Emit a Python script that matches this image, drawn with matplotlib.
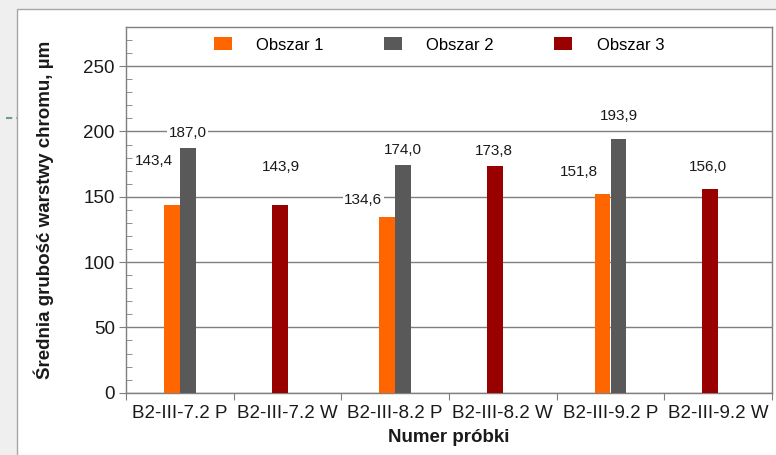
import numpy as np
import matplotlib
matplotlib.use("Agg")
import matplotlib.pyplot as plt
from matplotlib.patches import Rectangle
from matplotlib.lines import Line2D

plt.rcParams['font.family'] = ['Liberation Sans', 'DejaVu Sans']

categories = ['B2-III-7.2 P', 'B2-III-7.2 W', 'B2-III-8.2 P',
              'B2-III-8.2 W', 'B2-III-9.2 P', 'B2-III-9.2 W']
series_names = ['Obszar 1', 'Obszar 2', 'Obszar 3']
obszar1 = [143.4, np.nan, 134.6, np.nan, 151.8, np.nan]
obszar2 = [187.0, np.nan, 174.0, np.nan, 193.9, np.nan]
obszar3 = [np.nan, 143.9, np.nan, 173.8, np.nan, 156.0]
colors = ['#ff6600', '#595959', '#990000']

# bar offsets (in bar widths) and hand-placed label shifts in pixels
bar_w = 0.148
offsets = [-0.5, 0.5, -0.5]
label_shift = {
    (0, 0): (-18, 44), (1, 0): (0, 15), (2, 1): (1, 38),
    (0, 2): (-24, 17), (1, 2): (0, 15), (2, 3): (-1, 15),
    (0, 4): (-24, 22), (1, 4): (0, 23), (2, 5): (-2, 22),
}

fig = plt.figure(figsize=(7.76, 4.55), dpi=100, facecolor='#efefef')

# white chart area with thin frame
fig.patches.append(Rectangle((17 / 776, -0.05), 1.0, 1 - 9 / 455 + 0.05,
                             transform=fig.transFigure, facecolor='white',
                             edgecolor='#a6a6a6', lw=1.0, zorder=-2))
fig.lines.append(Line2D([6 / 776, 17 / 776], [1 - 118 / 455, 1 - 118 / 455],
                        transform=fig.transFigure, color='#6f9999',
                        lw=1.5, ls=(0, (3, 2)), zorder=-1))

ax = fig.add_axes([126 / 776, 1 - 392.7 / 455, 646 / 776, 365.7 / 455])
ax.set_facecolor('white')

x = np.arange(len(categories))
for i, vals in enumerate([obszar1, obszar2, obszar3]):
    vals = np.array(vals)
    pos = x + offsets[i] * bar_w
    ax.bar(pos, vals, width=bar_w, color=colors[i], label=series_names[i],
           zorder=3, linewidth=0)
    for j, v in enumerate(vals):
        if np.isnan(v):
            continue
        dx, dy = label_shift[(i, j)]
        ax.annotate(f'{v:.1f}'.replace('.', ','), (pos[j], v),
                    xytext=(dx, dy), textcoords='offset pixels',
                    ha='center', va='center', fontsize=11, color='#1a1a1a',
                    bbox=dict(facecolor='white', edgecolor='none', pad=1),
                    zorder=4)

ax.set_xlim(-0.5, len(categories) - 0.5)
ax.set_ylim(0, 280)
ax.set_yticks(np.arange(0, 251, 50))
ax.set_yticks(np.arange(0, 281, 10), minor=True)
ax.yaxis.grid(True, which='major', color='#7f7f7f', lw=1.0, zorder=1)
ax.tick_params(axis='y', which='major', direction='out', length=5,
               color='#7f7f7f', labelsize=13.5, labelcolor='#1a1a1a', pad=3)
ax.tick_params(axis='y', which='minor', direction='in', length=4,
               color='#7f7f7f')

ax.set_xticks(np.arange(-0.5, len(categories)), minor=False)
ax.set_xticklabels([])
ax.set_xticks(x, minor=True)
ax.set_xticklabels(categories, minor=True)
ax.tick_params(axis='x', which='major', direction='out', length=5,
               color='#7f7f7f')
ax.tick_params(axis='x', which='minor', length=0, labelsize=13.5,
               labelcolor='#1a1a1a', pad=9)

for side in ['left', 'bottom', 'top', 'right']:
    ax.spines[side].set_color('#7f7f7f')
    ax.spines[side].set_linewidth(1.0)

ax.set_ylabel('Średnia grubość warstwy chromu, µm', fontsize=13.5,
              fontweight='bold', color='#1a1a1a', labelpad=21)
ax.set_xlabel('Numer próbki', fontsize=13.5, fontweight='bold',
              color='#1a1a1a', labelpad=5)

ax.legend(loc='center', bbox_to_anchor=((439 - 126) / 646, 0.951), ncol=3,
          frameon=False, fontsize=12, handlelength=1.1, handleheight=0.8,
          handletextpad=1.45, columnspacing=3.6)

fig.savefig('out.png', dpi=100, facecolor=fig.get_facecolor())
